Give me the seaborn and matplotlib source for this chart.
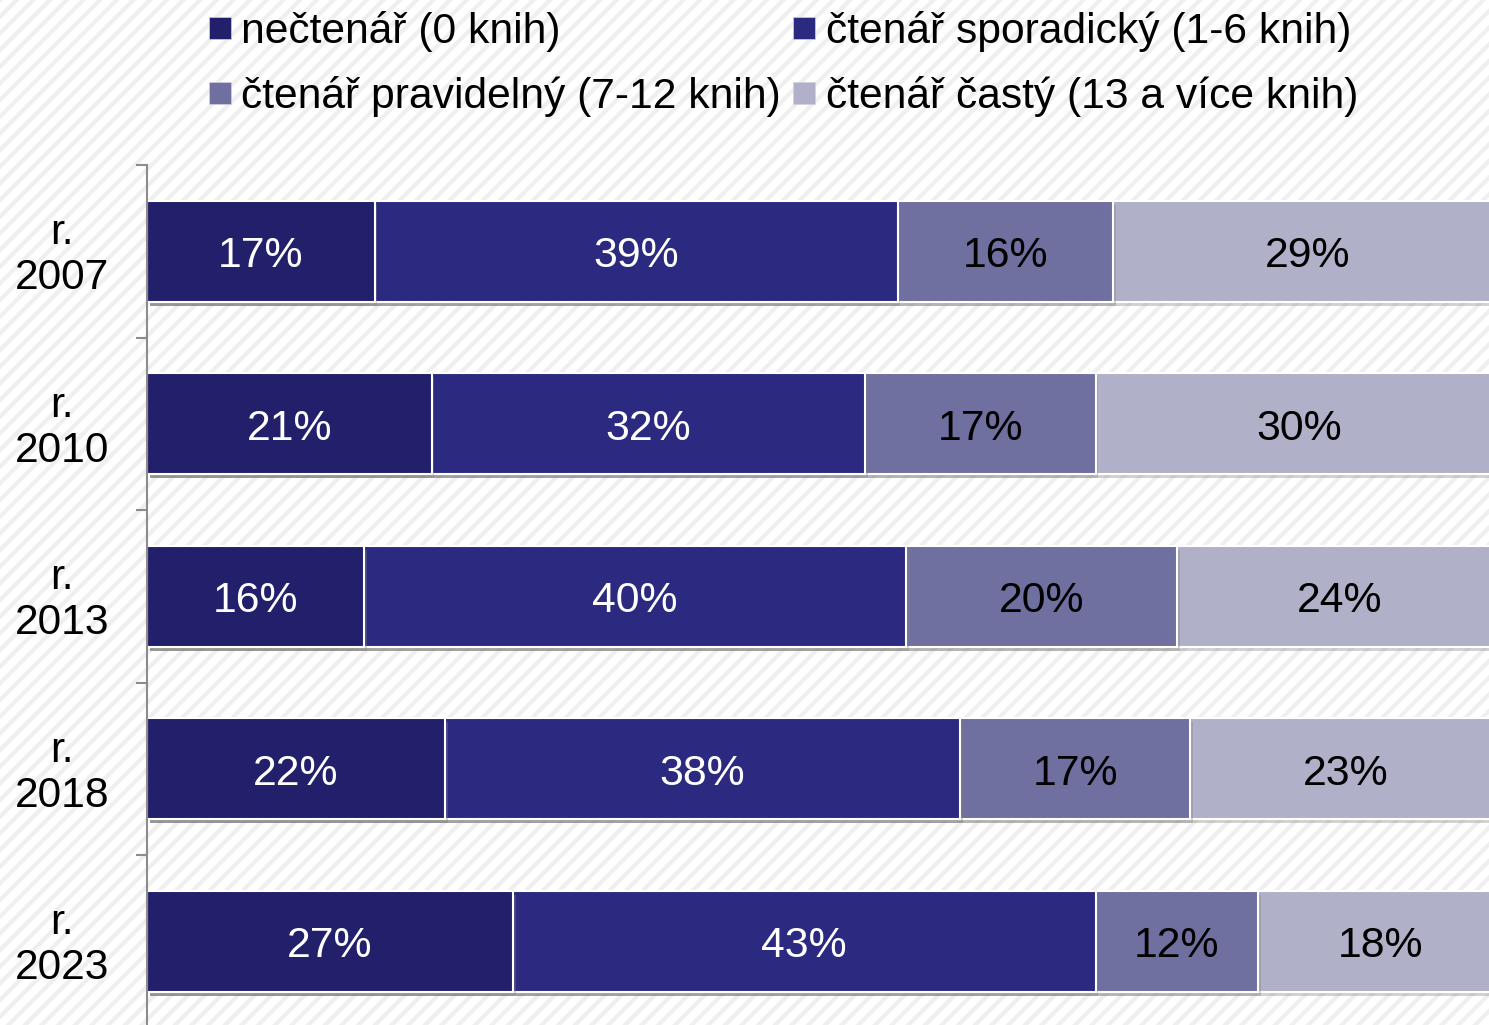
import matplotlib
matplotlib.use("Agg")
import matplotlib.pyplot as plt
import matplotlib.patheffects as pe
from matplotlib.patches import Rectangle
from matplotlib.lines import Line2D
import seaborn as sns
import pandas as pd
import numpy as np

years = ["r.\n2007", "r.\n2010", "r.\n2013", "r.\n2018", "r.\n2023"]
series_names = ["nečtenář (0 knih)", "čtenář sporadický (1-6 knih)",
                "čtenář pravidelný (7-12 knih)", "čtenář častý (13 a více knih)"]
necte = [16.8, 21, 16, 22, 27]
spor = [38.6, 32, 40, 38, 43]
prav = [15.9, 17, 20, 17, 12]
cast = [28.7, 30, 24, 23, 18]
colors = ["#221F6B", "#2B2A80", "#6F6FA0", "#B0B0C8"]
text_colors = ["white", "white", "black", "black"]

sns.set_theme(style="white")
plt.rcParams["font.family"] = ["Liberation Sans", "DejaVu Sans"]
plt.rcParams["text.color"] = "black"
plt.rcParams["hatch.linewidth"] = 3.0
plt.rcParams["hatch.color"] = "#efefef"

fig = plt.figure(figsize=(14.89, 10.25), dpi=100)
fig.patch.set_facecolor("white")
bg = Rectangle((0, 0), 1, 1, transform=fig.transFigure, facecolor="white",
               edgecolor="#efefef", hatch="//", linewidth=0, zorder=-10)
fig.patches.append(bg)

ax = fig.add_axes([147 / 1489, 1 - 1027.5 / 1025, 1355 / 1489, (1027.5 - 165) / 1025])
ax.set_facecolor("none")

vals = [necte, spor, prav, cast]
cum = np.cumsum(np.array(vals), axis=0)
df = pd.DataFrame({"year": years})
for i in range(4):
    df[f"c{i}"] = cum[i]

shadow = [pe.SimplePatchShadow(offset=(2, -3), shadow_rgbFace="#808080", alpha=0.35), pe.Normal()]
for i in reversed(range(4)):
    sns.barplot(data=df, x=f"c{i}", y="year", orient="h", color=colors[i],
                width=0.585, edgecolor="white", linewidth=1.5, saturation=1,
                ax=ax, order=years)
for p in ax.patches:
    p.set_path_effects(shadow)

# labels
for j in range(len(years)):
    left = 0
    for i in range(4):
        v = vals[i][j]
        ax.text(left + v / 2, j + 0.03, f"{round(v)}%", ha="center", va="center",
                color=text_colors[i], fontsize=30.8)
        left += v

ax.set_xlim(0, 100)
ax.set_ylim(4.5, -0.5)
ax.set_xlabel("")
ax.set_ylabel("")
ax.set_xticks([])
for s in ["top", "right", "bottom"]:
    ax.spines[s].set_visible(False)
ax.spines["left"].set_color("#8c8c8c")
ax.spines["left"].set_linewidth(1.5)
ax.set_yticks([y - 0.015 for y in range(len(years))])
ax.set_yticklabels(years, ha="center", multialignment="center", linespacing=1.17)
ax.tick_params(axis="y", which="major", length=0, pad=61, labelsize=30.6, labelcolor="black")
ax.set_yticks(np.arange(-0.5, 5, 1), minor=True)
ax.tick_params(axis="y", which="minor", length=8, width=1.5, color="#8c8c8c", left=True)

handles = [Line2D([0], [0], marker="s", linestyle="none", markersize=16,
                  markerfacecolor=c, markeredgecolor="#d0d0e0", markeredgewidth=0.5)
           for c in colors]
order = [0, 2, 1, 3]
leg = fig.legend([handles[k] for k in order], [series_names[k] for k in order],
                 loc="upper left", bbox_to_anchor=(190 / 1489, 1.006), ncol=2,
                 frameon=False, fontsize=30.7, handletextpad=0.2, columnspacing=0.25,
                 labelspacing=0.56, handlelength=0.6, borderaxespad=0)
for t in leg.get_texts():
    t.set_color("black")

fig.savefig("out.png", dpi=100)
